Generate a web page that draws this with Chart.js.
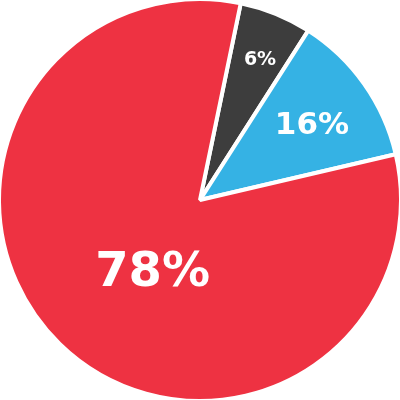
<!DOCTYPE html>
<html>
<head>
<meta charset="utf-8">
<script src="https://cdn.jsdelivr.net/npm/chart.js@4.4.0/dist/chart.umd.min.js"></script>
<style>
html,body{margin:0;padding:0;background:#fff;}
#wrap{width:400px;height:400px;}
</style>
</head>
<body>
<div id="wrap"><canvas id="c" width="400" height="400"></canvas></div>
<script>
// Slice categories, drawn shares, and printed labels
const categories = ["Dark", "Blue", "Red"];
const sliceValues = [5.8, 12.3, 81.9];
const sliceLabels = ["6%", "16%", "78%"];
const sliceColors = ["#3d3d3d", "#35b2e4", "#ee3242"];

// label styling / placement (fraction of radius, angular shift in degrees, font size)
const labelStyle = [
  {r: 0.76, shift: 1, size: 19},
  {r: 0.67, shift: 1.5, size: 31},
  {r: 0.43, shift: -11, size: 48}
];

const labelPlugin = {
  id: 'sliceLabels',
  afterDatasetsDraw(chart) {
    const ctx = chart.ctx;
    const meta = chart.getDatasetMeta(0);
    meta.data.forEach((arc, i) => {
      const p = arc.getProps(['x','y','startAngle','endAngle','outerRadius'], true);
      const st = labelStyle[i];
      const mid = (p.startAngle + p.endAngle) / 2 + st.shift * Math.PI / 180;
      const rr = p.outerRadius * st.r;
      const x = p.x + Math.cos(mid) * rr;
      const y = p.y + Math.sin(mid) * rr;
      ctx.save();
      ctx.fillStyle = '#ffffff';
      ctx.font = 'bold ' + st.size + 'px "DejaVu Sans"';
      ctx.textAlign = 'center';
      ctx.textBaseline = 'middle';
      ctx.fillText(sliceLabels[i], x, y + 1);
      ctx.restore();
    });
  }
};

new Chart(document.getElementById('c'), {
  type: 'pie',
  data: {
    labels: categories,
    datasets: [{
      data: sliceValues,
      backgroundColor: sliceColors,
      borderColor: '#ffffff',
      borderWidth: 4
    }]
  },
  options: {
    responsive: false,
    animation: false,
    devicePixelRatio: 1,
    rotation: 11.7,
    radius: 201,
    layout: {padding: 0},
    plugins: {
      legend: {display: false},
      tooltip: {enabled: false}
    }
  },
  plugins: [labelPlugin]
});
</script>
</body>
</html>
